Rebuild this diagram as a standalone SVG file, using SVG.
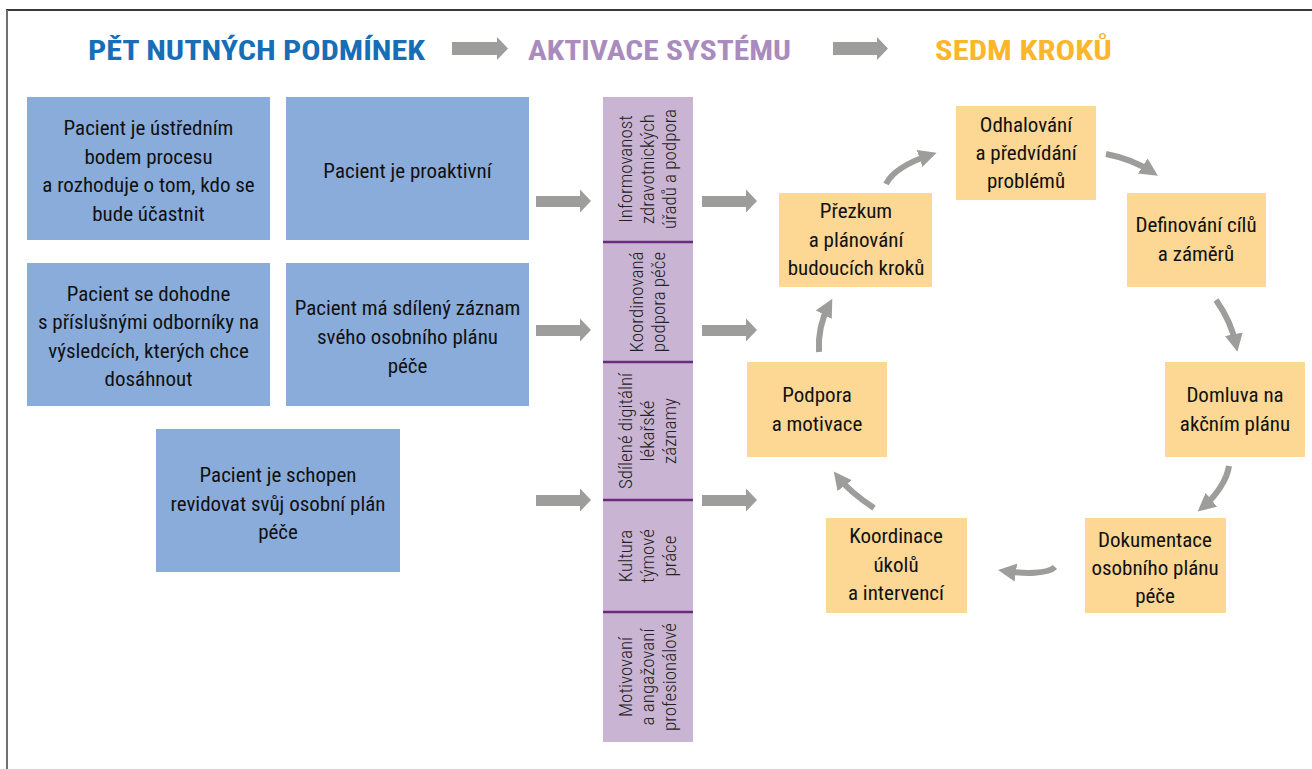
<svg xmlns="http://www.w3.org/2000/svg" width="1312" height="769" viewBox="0 0 1312 769">
<style>
.bg{fill:#ffffff}
.blue{fill:#8aacdb}
.orange{fill:#fdd794}
.col{fill:#c9b4d4}
.div{stroke:#6c2b7d;stroke-width:2.5}
.t{font-family:"Liberation Sans Narrow","Roboto Condensed","DejaVu Sans Condensed",Roboto,sans-serif;font-size:21px;fill:#111;text-anchor:middle}
.v{font-family:"Liberation Sans Narrow","Roboto Condensed","DejaVu Sans Condensed",Roboto,sans-serif;font-size:19px;font-weight:300;fill:#222;text-anchor:middle}
.h{font-family:"Liberation Sans Narrow","Roboto Condensed","Liberation Sans",sans-serif;font-size:28px;font-weight:bold}
.fat{fill:#9d9d9c}
.cyc{fill:none;stroke:#9d9d9c;stroke-width:6}
</style>
<defs>
<marker id="ah" markerUnits="userSpaceOnUse" markerWidth="20" markerHeight="20" refX="11" refY="9" orient="auto">
<path d="M0,0 L18,9 L0,18 z" fill="#9d9d9c"/>
</marker>
</defs>
<rect class="bg" x="0" y="0" width="1312" height="769"/>
<g id="frame">
<line x1="6" y1="10" x2="1312" y2="10" stroke="#3a3a3a" stroke-width="2"/>
<line x1="7" y1="10" x2="7" y2="769" stroke="#707070" stroke-width="2"/>
</g>
<g id="headers">
<text class="h" x="88" y="60" fill="#176db6" textLength="337" lengthAdjust="spacingAndGlyphs">PĚT NUTNÝCH PODMÍNEK</text>
<text class="h" x="528" y="60" fill="#a98bbd" textLength="263" lengthAdjust="spacingAndGlyphs">AKTIVACE SYSTÉMU</text>
<text class="h" x="935" y="60" fill="#fbb72b" textLength="177" lengthAdjust="spacingAndGlyphs">SEDM KROKŮ</text>
</g>
<g id="b1"><rect class="blue" x="27" y="97" width="243" height="143"/>
<text class="t" x="148.5" y="135">Pacient je ústředním</text>
<text class="t" x="148.5" y="164">bodem procesu</text>
<text class="t" x="148.5" y="192">a rozhoduje o tom, kdo se</text>
<text class="t" x="148.5" y="221">bude účastnit</text></g>
<g id="b2"><rect class="blue" x="286" y="97" width="243" height="143"/>
<text class="t" x="407.5" y="178">Pacient je proaktivní</text></g>
<g id="b3"><rect class="blue" x="27" y="263" width="243" height="143"/>
<text class="t" x="148.5" y="301">Pacient se dohodne</text>
<text class="t" x="148.5" y="329">s příslušnými odborníky na</text>
<text class="t" x="148.5" y="358">výsledcích, kterých chce</text>
<text class="t" x="148.5" y="386">dosáhnout</text></g>
<g id="b4"><rect class="blue" x="286" y="263" width="243" height="143"/>
<text class="t" x="407.5" y="315">Pacient má sdílený záznam</text>
<text class="t" x="407.5" y="344">svého osobního plánu</text>
<text class="t" x="407.5" y="373">péče</text></g>
<g id="b5"><rect class="blue" x="156" y="429" width="244" height="143"/>
<text class="t" x="278" y="482">Pacient je schopen</text>
<text class="t" x="278" y="511">revidovat svůj osobní plán</text>
<text class="t" x="278" y="539">péče</text></g>
<g id="system">
<rect class="col" x="603" y="97" width="90" height="645"/>
<line class="div" x1="603" y1="242" x2="693" y2="242"/>
<line class="div" x1="603" y1="362" x2="693" y2="362"/>
<line class="div" x1="603" y1="500" x2="693" y2="500"/>
<line class="div" x1="603" y1="612" x2="693" y2="612"/>
<g transform="translate(648,169) rotate(-90)">
<text class="v" x="0" y="-16">Informovanost</text>
<text class="v" x="0" y="6">zdravotnických</text>
<text class="v" x="0" y="28">úřadů a podpora</text></g>
<g transform="translate(648,302) rotate(-90)">
<text class="v" x="0" y="-5">Koordinovaná</text>
<text class="v" x="0" y="17">podpora péče</text></g>
<g transform="translate(648,431) rotate(-90)">
<text class="v" x="0" y="-16">Sdílené digitální</text>
<text class="v" x="0" y="6">lékařské</text>
<text class="v" x="0" y="28">záznamy</text></g>
<g transform="translate(648,556) rotate(-90)">
<text class="v" x="0" y="-16">Kultura</text>
<text class="v" x="0" y="6">týmové</text>
<text class="v" x="0" y="28">práce</text></g>
<g transform="translate(648,677) rotate(-90)">
<text class="v" x="0" y="-16">Motivovaní</text>
<text class="v" x="0" y="6">a angažovaní</text>
<text class="v" x="0" y="28">profesionálové</text></g>
</g>
<g id="s1"><rect class="orange" x="956" y="106" width="140" height="94"/>
<text class="t" x="1026" y="132">Odhalování</text>
<text class="t" x="1026" y="160">a předvídání</text>
<text class="t" x="1026" y="188">problémů</text></g>
<g id="s2"><rect class="orange" x="1127" y="193" width="139" height="94"/>
<text class="t" x="1196" y="232">Definování cílů</text>
<text class="t" x="1196" y="261">a záměrů</text></g>
<g id="s3"><rect class="orange" x="1165" y="362" width="140" height="95"/>
<text class="t" x="1235" y="402">Domluva na</text>
<text class="t" x="1235" y="431">akčním plánu</text></g>
<g id="s4"><rect class="orange" x="1085" y="518" width="141" height="95"/>
<text class="t" x="1155" y="547">Dokumentace</text>
<text class="t" x="1155" y="575">osobního plánu</text>
<text class="t" x="1155" y="603">péče</text></g>
<g id="s5"><rect class="orange" x="826" y="518" width="141" height="95"/>
<text class="t" x="896" y="543">Koordinace</text>
<text class="t" x="896" y="572">úkolů</text>
<text class="t" x="896" y="600">a intervencí</text></g>
<g id="s6"><rect class="orange" x="747" y="362" width="140" height="95"/>
<text class="t" x="817" y="402">Podpora</text>
<text class="t" x="817" y="431">a motivace</text></g>
<g id="s7"><rect class="orange" x="779" y="193" width="153" height="94"/>
<text class="t" x="856" y="218">Přezkum</text>
<text class="t" x="856" y="247">a plánování</text>
<text class="t" x="856" y="275">budoucích kroků</text></g>
<g id="connectors">
<path class="fat" d="M452,42 H497 V37 L508,48.5 L497,60 V55 H452 Z"/>
<path class="fat" d="M833,42 H877 V37 L888,48.5 L877,60 V55 H833 Z"/>
<path class="fat" d="M536,196 H580 V189.5 L591,201 L580,212.5 V207 H536 Z"/>
<path class="fat" d="M536,325 H580 V318.5 L591,330 L580,341.5 V336 H536 Z"/>
<path class="fat" d="M536,495 H580 V488.5 L591,500 L580,511.5 V506 H536 Z"/>
<path class="fat" d="M702,196 H746 V189.5 L757,201 L746,212.5 V207 H702 Z"/>
<path class="fat" d="M702,325 H746 V318.5 L757,330 L746,341.5 V336 H702 Z"/>
<path class="fat" d="M702,495 H746 V488.5 L757,500 L746,511.5 V506 H702 Z"/>
<path class="cyc" marker-end="url(#ah)" d="M886,184 C892,172 906,163 930,155"/>
<path class="cyc" marker-end="url(#ah)" d="M1106,154 C1122,157 1138,163 1152,172"/>
<path class="cyc" marker-end="url(#ah)" d="M1216,300 C1226,314 1233,330 1236,345"/>
<path class="cyc" marker-end="url(#ah)" d="M1229,466 C1227,480 1216,496 1203,507"/>
<path class="cyc" marker-end="url(#ah)" d="M1055,567 C1048,574 1025,574 1005,571"/>
<path class="cyc" marker-end="url(#ah)" d="M874,508 C862,500 848,490 838,477"/>
<path class="cyc" marker-end="url(#ah)" d="M819,352 C818,335 822,318 829,305"/>
</g>
</svg>
